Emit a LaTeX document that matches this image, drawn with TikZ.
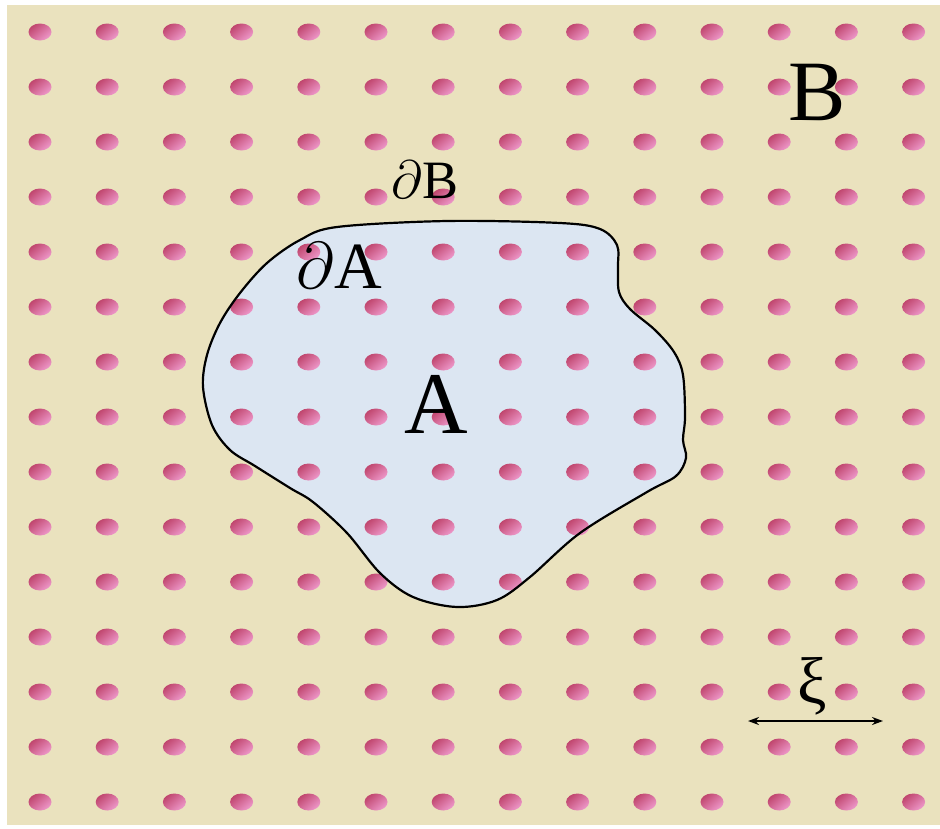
\RequirePackage{fix-cm}
\documentclass[tikz,border=0pt]{standalone}
\usepackage{fontspec}
\setmainfont{Liberation Serif}
\usepackage{xcolor}
\definecolor{sandbg}{RGB}{234, 226, 190}
\definecolor{regionA}{RGB}{220, 230, 242}
\definecolor{holedark}{RGB}{192, 70, 110}
\definecolor{holelight}{RGB}{238, 152, 202}
\usetikzlibrary{arrows.meta}

\begin{document}
\begin{tikzpicture}[
    x=1pt, y=-1pt,
    >={Stealth[length=11pt, width=8pt]},
    hole/.style={top color=holedark, bottom color=holelight, shading angle=40},
    lbl/.style={inner sep=0pt, anchor=base},
    region/.style={fill=regionA, draw=black, line width=2.2pt}
]

% Rahmen und Hintergrund B
\useasboundingbox (0,0) rectangle (940,828);
\fill[white] (0,0) rectangle (940,828);
\fill[sandbg] (7,5) rectangle (940,825);

% Gebiet A
\fill[regionA] plot[smooth cycle, tension=0.55] coordinates {
    (337,227) (447,221) (560,223) (600,229) (617,245) (618,267) (619,292)
    (630,309) (655,330) (674,352) (683,375) (685,417) (683,440) (686,458)
    (676,476) (647,492) (580,533) (530,577) (497,600) (457,607) (413,597)
    (380,573) (347,533) (313,502) (290,488) (255,466) (230,450) (212,425)
    (203,387) (207,355) (220,323) (240,293) (267,263) (300,240)};

% Gitter der Punkte
\foreach \i in {0,...,13} {
    \foreach \j in {0,...,14} {
        \shade[hole] (40+67.2*\i, 32+55*\j) ellipse [x radius=11.5, y radius=8.5];
    }
}

% Rand von A
\draw[region, fill=none] plot[smooth cycle, tension=0.55] coordinates {
    (337,227) (447,221) (560,223) (600,229) (617,245) (618,267) (619,292)
    (630,309) (655,330) (674,352) (683,375) (685,417) (683,440) (686,458)
    (676,476) (647,492) (580,533) (530,577) (497,600) (457,607) (413,597)
    (380,573) (347,533) (313,502) (290,488) (255,466) (230,450) (212,425)
    (203,387) (207,355) (220,323) (240,293) (267,263) (300,240)};

% Beschriftungen
\node[lbl, font=\fontsize{86}{86}\selectfont] (labB) at (817,120) {B};
\node[lbl, font=\fontsize{54}{54}\selectfont] (labdB) at (425,198) {$\partial$B};
\node[lbl, font=\fontsize{66}{66}\selectfont] (labdA) at (339,288) {$\partial$A};
\node[lbl, font=\fontsize{88}{88}\selectfont] (labA) at (436,433) {A};

% Korrelationslaenge
\coordinate (xiL) at (748,721);
\coordinate (xiR) at (883,721);
\draw[<->, line width=1.9pt] (xiL) -- (xiR);
\node[lbl, font=\fontsize{66}{66}\selectfont] (labXi) at (812,703) {ξ};

\end{tikzpicture}
\end{document}
